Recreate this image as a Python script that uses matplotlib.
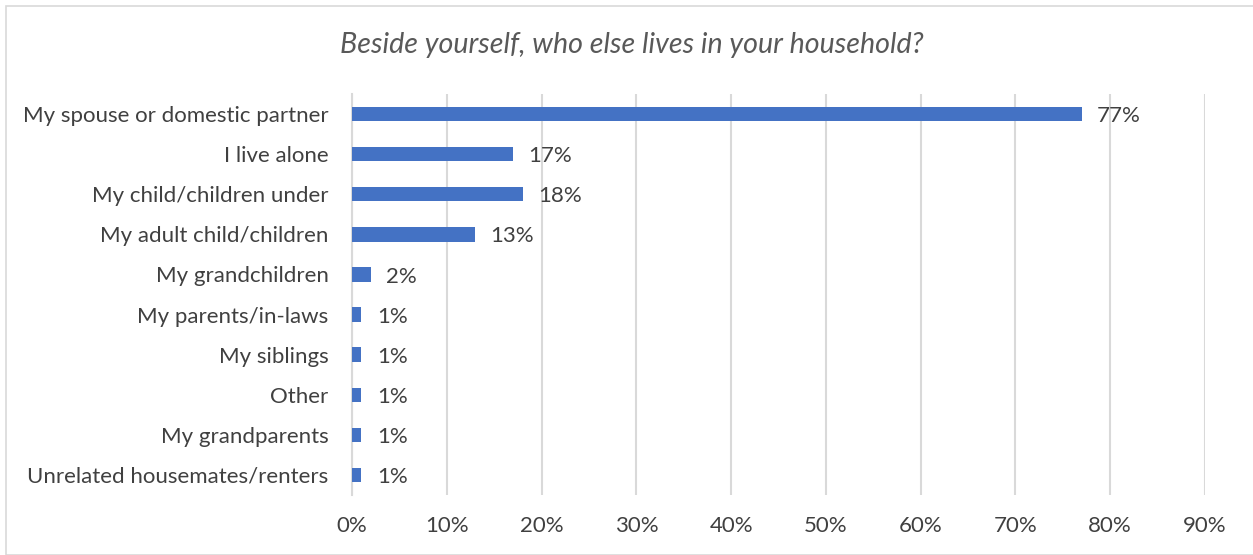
import matplotlib.pyplot as plt
import matplotlib.patches as patches
import numpy as np

# data
categories = ['My spouse or domestic partner', 'I live alone', 'My child/children under',
              'My adult child/children', 'My grandchildren', 'My parents/in-laws',
              'My siblings', 'Other', 'My grandparents', 'Unrelated housemates/renters']
values = [77, 17, 18, 13, 2, 1, 1, 1, 1, 1]
ticks = [0, 10, 20, 30, 40, 50, 60, 70, 80, 90]

plt.rcParams['font.family'] = ['Lato', 'DejaVu Sans']

fig = plt.figure(figsize=(12.53, 5.55), dpi=100)
ax = fig.add_axes([352 / 1253, 1 - 495 / 555, (1205 - 352) / 1253, 401 / 555])

y = np.arange(len(categories))
ax.barh(y, values, height=0.36, color='#4472C4', zorder=3)
for yi, v in zip(y, values):
    ax.annotate(f'{v}%', (v, yi), xytext=(11, -1.5), textcoords='offset points',
                va='center', ha='left', fontsize=16, color='#404040')

ax.set_ylim(len(categories) - 0.5, -0.5)
ax.set_xlim(0, 90)
ax.set_yticks(y)
ax.set_yticklabels(categories, fontsize=16, color='#404040')
ax.set_xticks(ticks)
ax.set_xticklabels([f'{t}%' for t in ticks], fontsize=16, color='#404040')
ax.tick_params(length=0)
ax.tick_params(axis='y', pad=17)
ax.tick_params(axis='x', pad=15)
ax.grid(axis='x', color='#D9D9D9', linewidth=1.5, zorder=0)
for s in ['top', 'right', 'bottom']:
    ax.spines[s].set_visible(False)
ax.spines['left'].set_color('#D9D9D9')
ax.spines['left'].set_linewidth(1.5)

fig.text(0.504, 1 - 45 / 555, 'Beside yourself, who else lives in your household?',
         ha='center', va='center', fontsize=20.6, style='italic', color='#595959')

fig.patches.append(patches.Rectangle((6 / 1253, 0), 1, 1 - 6 / 555, transform=fig.transFigure,
                                     fill=False, edgecolor='#D9D9D9', linewidth=1.2))

fig.savefig('out.png', dpi=100)
